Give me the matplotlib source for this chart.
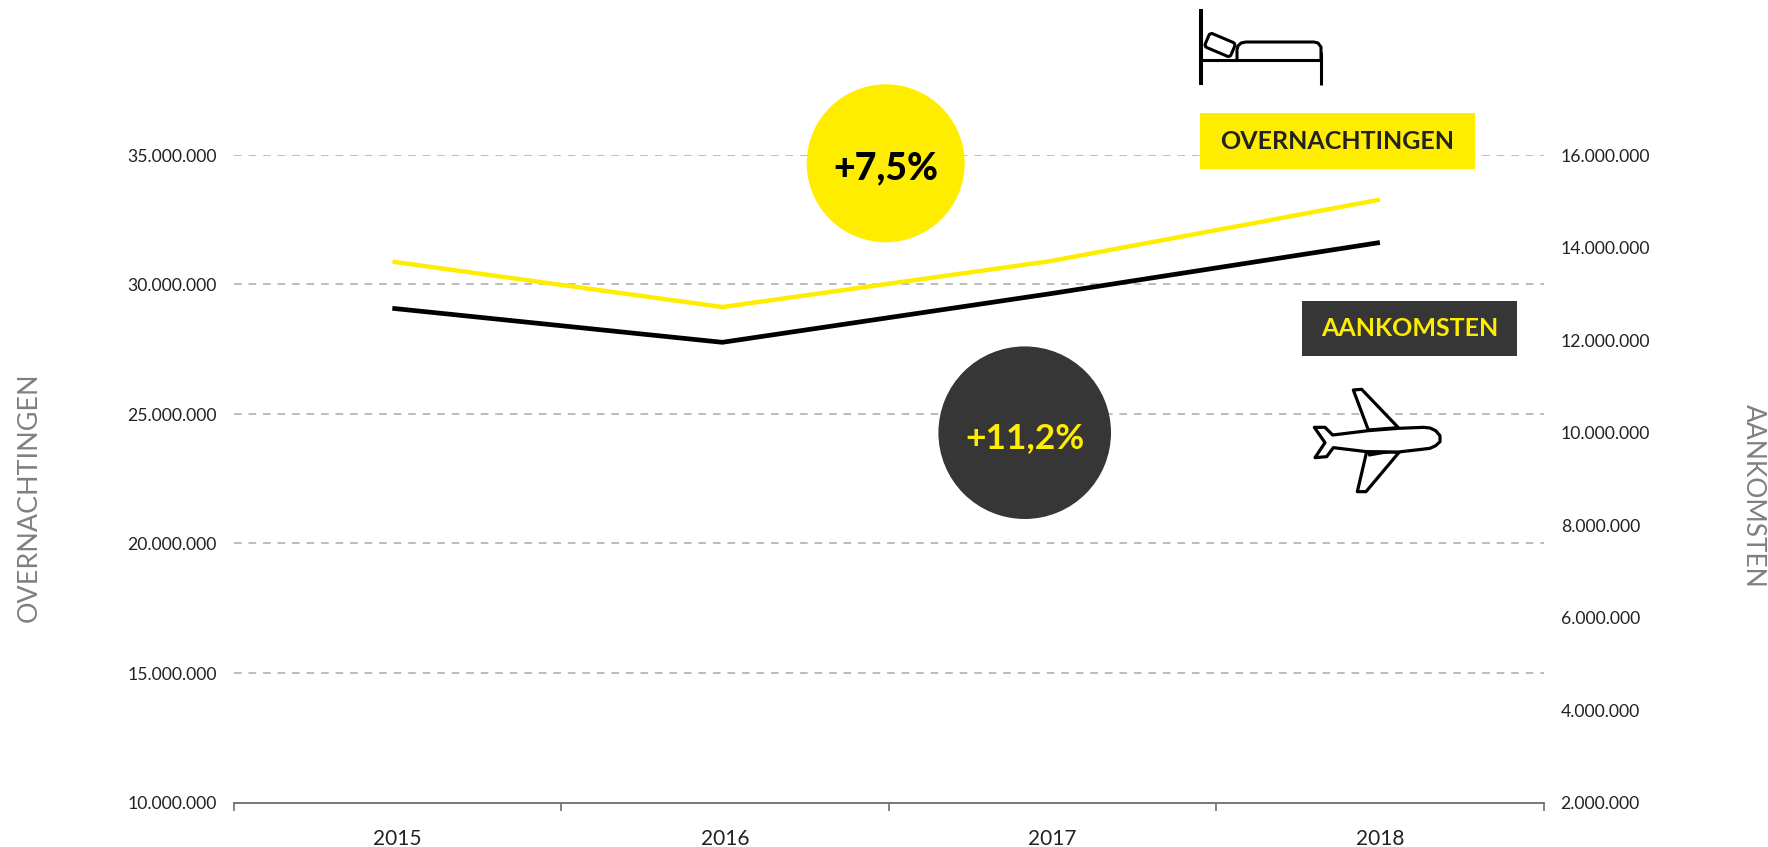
import matplotlib.pyplot as plt
from matplotlib.patches import Circle, FancyBboxPatch, Polygon, Rectangle
from matplotlib.transforms import Affine2D

plt.rcParams['font.family'] = ['Lato', 'DejaVu Sans']

years = ['2015', '2016', '2017', '2018']
line_x = [-0.008, 0.992, 1.992, 2.992]
overnachtingen = [30870000, 29130000, 30900000, 33260000]
aankomsten = [12680000, 11950000, 13000000, 14100000]
left_ticks = [10000000, 15000000, 20000000, 25000000, 30000000, 35000000]
right_ticks = [2000000, 4000000, 6000000, 8000000, 10000000, 12000000, 14000000, 16000000]

YELLOW = '#FFED00'
DARK = '#363636'
W, H = 1768, 847


def dotted(v):
    return f'{v:,}'.replace(',', '.')


fig = plt.figure(figsize=(W / 100, H / 100), dpi=100)
ax = fig.add_axes([233.5 / W, 1 - 802.5 / H, (1544 - 233.5) / W, (802.5 - 155) / H])
ax.set_xlim(-0.5, 3.5)
ax.set_ylim(10000000, 35000000)
for s in ['top', 'left', 'right']:
    ax.spines[s].set_visible(False)
ax.spines['bottom'].set_color('#707070')
ax.spines['bottom'].set_linewidth(1.3)
ax.set_xticks(range(4))
ax.set_xticklabels(years, fontsize=15, color='#222222')
ax.set_xticks([-0.5, 0.5, 1.5, 2.5, 3.5], minor=True)
ax.tick_params(axis='x', which='major', length=0, pad=19)
ax.tick_params(axis='x', which='minor', length=6, width=1.2, color='#707070')
ax.set_yticks(left_ticks)
ax.set_yticklabels([dotted(v) for v in left_ticks], fontsize=12.7, color='#222222')
ax.tick_params(axis='y', length=0, pad=12)
ax.grid(axis='y', color='#aaaaaa', linestyle=(0, (5, 4.5)), linewidth=1.1)
ax.set_axisbelow(True)
ax.plot(line_x, overnachtingen, color=YELLOW, linewidth=3.2, clip_on=False, zorder=3)

ax2 = ax.twinx()
ax2.set_ylim(2000000, 16000000)
for s in ax2.spines.values():
    s.set_visible(False)
ax2.set_yticks(right_ticks)
ax2.set_yticklabels([dotted(v) for v in right_ticks], fontsize=12.7, color='#222222')
ax2.tick_params(axis='y', length=0, pad=12)
ax2.plot(line_x, aankomsten, color='black', linewidth=3.4, clip_on=False, zorder=3)

# overlay in pixel coordinates for the badges, labels and icons
ov = fig.add_axes([0, 0, 1, 1])
ov.set_xlim(0, W)
ov.set_ylim(H, 0)
ov.axis('off')
ov.patch.set_alpha(0)

ov.text(29, 497, 'OVERNACHTINGEN', rotation=90, ha='center', va='center', fontsize=19.4, color='#808080')
ov.text(1753, 496, 'AANKOMSTEN', rotation=270, ha='center', va='center', fontsize=19, color='#808080')

ov.add_patch(Circle((885.7, 163.3), 79, color=YELLOW, lw=0))
ov.text(885.7, 168, '+7,5%', ha='center', va='center', fontsize=27, fontweight=900, color='black')
ov.add_patch(Circle((1024.7, 432.7), 86.3, color=DARK, lw=0))
ov.text(1024.7, 438, '+11,2%', ha='center', va='center', fontsize=25.5, fontweight='bold', color=YELLOW)

ov.add_patch(Rectangle((1200, 113), 275, 56, color=YELLOW, lw=0))
ov.text(1337.5, 141.5, 'OVERNACHTINGEN', ha='center', va='center', fontsize=18, fontweight='bold', color='#222222')
ov.add_patch(Rectangle((1302, 301), 215, 55, color=DARK, lw=0))
ov.text(1409.5, 328.5, 'AANKOMSTEN', ha='center', va='center', fontsize=18, fontweight='bold', color=YELLOW)

# bed icon
ov.plot([1201, 1201], [9, 85], color='black', lw=2.9, solid_capstyle='butt')
ov.plot([1321, 1321], [52, 85], color='black', lw=2.2, solid_capstyle='butt')
ov.plot([1201, 1321], [60, 60], color='black', lw=2.2, solid_capstyle='butt')
ov.plot([1237, 1237, 1238, 1241, 1246, 1314, 1318, 1321, 1321], [60, 50, 46, 43, 42, 42, 43, 47, 60], color='black', lw=2.2)
pillow_at = Affine2D().rotate_deg(23).translate(1220, 45) + ov.transData
ov.add_patch(FancyBboxPatch((-14, -7.5), 28, 15, boxstyle='round,pad=0,rounding_size=3', fc='white', ec='black', lw=2.2,
                            transform=pillow_at, zorder=4))

# plane icon, outline read in zoomed pixels
plane_wing_top = [(295, 450), (250, 330), (275, 328), (385, 443)]
plane_wing_bottom = [(290, 515), (262, 635), (288, 635), (388, 516)]
plane_body = [(188, 465), (295, 452), (385, 445), (460, 442), (480, 444), (497, 452), (510, 467), (510, 485), (497, 497),
              (480, 505), (455, 508), (385, 516), (290, 515), (190, 503), (170, 530), (135, 533), (165, 488), (133, 442),
              (165, 442)]
plane_shade = [(288, 511), (388, 514), (296, 530)]


def px(points):
    return [(1270 + a / 3, 280 + b / 3) for a, b in points]


ov.add_patch(Polygon(px(plane_wing_top), closed=True, fc='white', ec='black', lw=2.3, joinstyle='round'))
ov.add_patch(Polygon(px(plane_wing_bottom), closed=True, fc='white', ec='black', lw=2.3, joinstyle='round'))
ov.add_patch(Polygon(px(plane_body), closed=True, fc='white', ec='black', lw=2.3, joinstyle='round'))
ov.add_patch(Polygon(px(plane_shade), closed=True, fc='black', lw=0))

fig.savefig('out.png', dpi=100)
